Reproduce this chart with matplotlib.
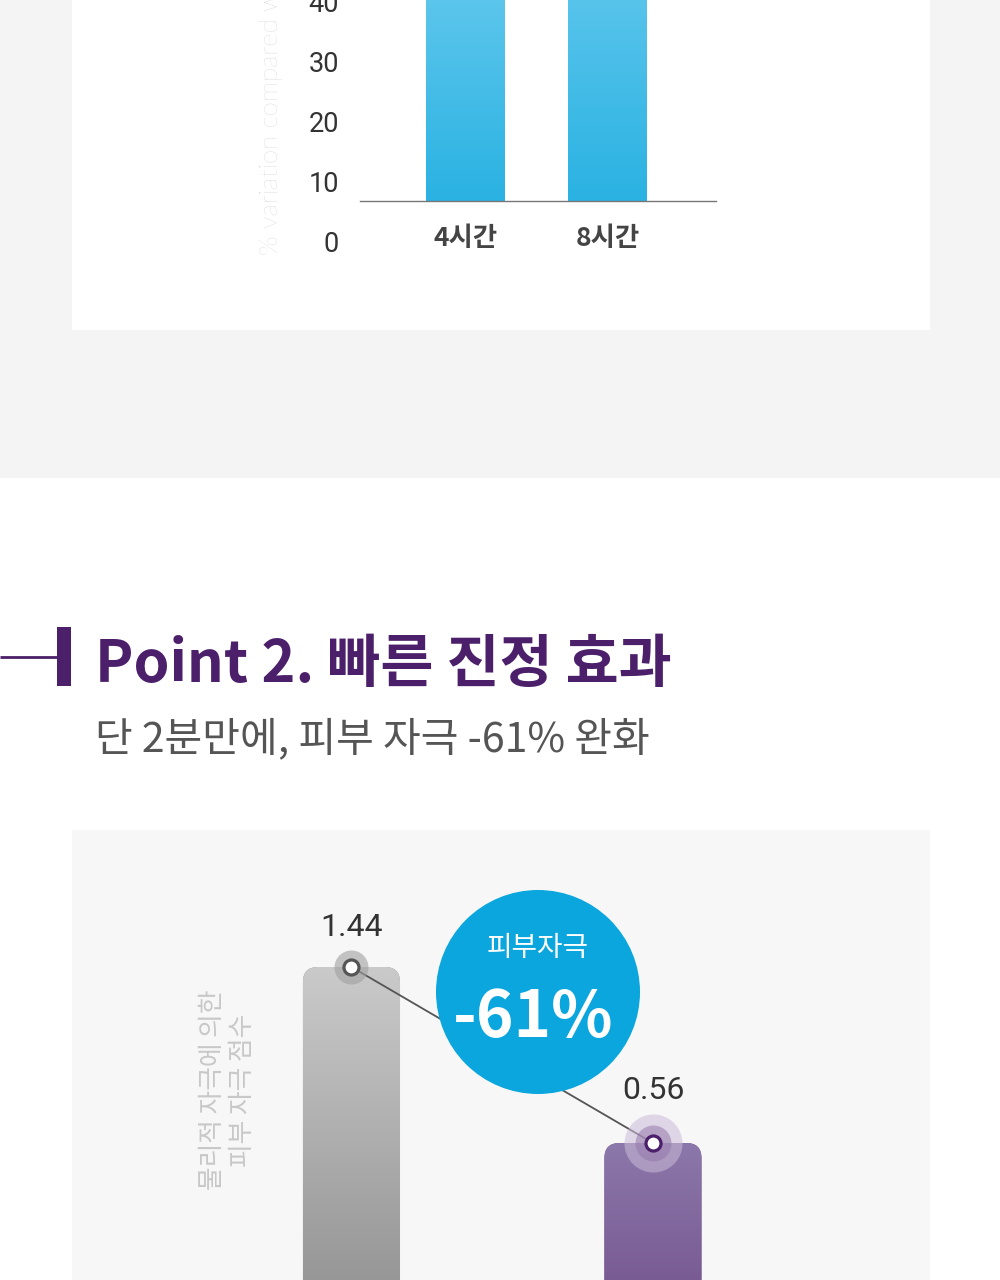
#Recreate infographic: hydration bars (top, cropped) and soothing effect bars (bottom)

import matplotlib
matplotlib.use('Agg')
import matplotlib.pyplot as plt
import matplotlib.patches as mpatches
from matplotlib.transforms import ScaledTranslation, blended_transform_factory
import numpy as np

plt.rcParams['font.family'] = ['Noto Sans CJK KR', 'DejaVu Sans']

# ---- data ----
top_categories = ['4시간', '8시간']
top_values = [46.5, 51.2]            # bars run off the top of the picture
top_ticks = [0, 10, 20, 30, 40]
top_ylabel = '% variation compared with T0'

title = 'Point 2. 빠른 진정 효과'
subtitle = '단 2분만에, 피부 자극 -61% 완화'

low_values = [1.44, 0.56]
low_ylabel = '물리적 자극에 의한\n피부 자극 점수'
badge_title = '피부자극'

change = round((1 - low_values[1] / low_values[0]) * 100)

# ---- figure ----
W, H = 1000, 1280
fig = plt.figure(figsize=(10, 12.8), dpi=100, facecolor='white')

def fy(px):
    return 1 - px / H

# background decoration layer in pixel coordinates
bg = fig.add_axes([0, 0, 1, 1], zorder=0)
bg.set_xlim(0, W)
bg.set_ylim(H, 0)
bg.axis('off')
bg.add_patch(mpatches.Rectangle((0, 0), W, 478, color='#f4f4f4', lw=0))
bg.add_patch(mpatches.Rectangle((72, 0), 858, 330, color='white', lw=0))
bg.add_patch(mpatches.Rectangle((72, 830), 858, 450, color='#f7f7f7', lw=0))

purple = '#4b1f69'
bg.plot([0, 57], [657, 657], color=purple, lw=2, solid_capstyle='butt')
bg.add_patch(mpatches.Rectangle((57, 627), 14, 59, color=purple, lw=0))
bg.text(95, 682, title, color=purple, fontsize=41.5, fontweight='bold',
        ha='left', va='baseline')
bg.text(95, 751, subtitle, color='#555555', fontsize=29.5, fontweight='light',
        ha='left', va='baseline')


def gradient_bar(ax, x, bottom, width, top, c_top, c_bot, radius=None, aspect=1.0, z=2):
    if radius:
        patch = mpatches.FancyBboxPatch((x - width / 2, bottom), width, top - bottom,
                                        boxstyle='round,pad=0,rounding_size=%g' % radius,
                                        mutation_aspect=aspect, fc=c_bot, ec='none', zorder=z)
    else:
        patch = mpatches.Rectangle((x - width / 2, bottom), width, top - bottom,
                                   fc=c_bot, ec='none', zorder=z)
    ax.add_patch(patch)
    c1 = np.array(matplotlib.colors.to_rgb(c_top))
    c2 = np.array(matplotlib.colors.to_rgb(c_bot))
    t = np.linspace(0, 1, 256)[:, None]
    img = (c1 * (1 - t) + c2 * t)[:, None, :]
    im = ax.imshow(img, extent=(x - width / 2, x + width / 2, bottom, top),
                   aspect='auto', zorder=z + 0.1, interpolation='bilinear')
    im.set_clip_path(patch)


# ---- top chart ----
ax1 = fig.add_axes([360 / W, fy(201), 356 / W, 201 / H], zorder=1)
ax1.patch.set_alpha(0)
x1 = np.arange(len(top_values))
for xi, v in zip(x1, top_values):
    gradient_bar(ax1, xi, 0, 0.556, v, '#6fcdf0', '#2ab2e2')
ax1.set_xlim(-0.743, 1.764)
ax1.set_ylim(0, 33.5)
for s in ['top', 'right', 'left']:
    ax1.spines[s].set_visible(False)
ax1.spines['bottom'].set_color('#777777')
ax1.spines['bottom'].set_linewidth(1)
ax1.spines['bottom'].set_zorder(5)
ax1.set_yticks([])
ax1.set_xticks(x1)
ax1.set_xticklabels(top_categories, fontsize=19, fontweight='bold', color='#444444')
ax1.tick_params(axis='x', length=0, pad=17)

# tick labels sit a little below their grid values in the original
tr = blended_transform_factory(fig.transFigure, ax1.transData) + \
    ScaledTranslation(0, -0.44, fig.dpi_scale_trans)
for t in top_ticks:
    ax1.text(339 / W, t, str(t), transform=tr, ha='right', va='center',
             fontsize=19.5, color='#333333', family='Roboto', clip_on=False)

fig.text(271 / W, fy(255), top_ylabel, rotation=90, ha='center', va='bottom',
         fontsize=18.5, color='#c8c8c8', family='Lato', fontweight='light')

# ---- bottom chart ----
ax2 = fig.add_axes([72 / W, 0, 858 / W, 450 / H], zorder=1)
ax2.patch.set_alpha(0)
ax2.axis('off')
floor = -0.125
bar_base = -0.4     # bars continue below the picture edge
x2 = np.arange(len(low_values))
bar_cols = [('#cacaca', '#8e8e8e'), ('#8c78aa', '#71508b')]
for xi, v, (ct, cb) in zip(x2, low_values, bar_cols):
    gradient_bar(ax2, xi, bar_base, 0.322, v, ct, cb, radius=0.05, aspect=1.5)
ax2.set_xlim(-0.927, 1.919)
ax2.set_ylim(floor, 2.125)

ax2.plot(x2, low_values, color='#555555', lw=1.3, zorder=4)
# halos
ax2.scatter([x2[0]], [low_values[0]], s=600, color='#a0a0a0', alpha=0.6, lw=0, zorder=5)
ax2.scatter([x2[1]], [low_values[1]], s=1745, color='#cbbcd8', alpha=0.55, lw=0, zorder=5)
ax2.scatter([x2[1]], [low_values[1]], s=672, color='#9478ab', alpha=0.55, lw=0, zorder=5)
ring_cols = ['#555555', purple]
for xi, v, rc in zip(x2, low_values, ring_cols):
    ax2.scatter([xi], [v], s=117, facecolor='white', edgecolor=rc, lw=2.3, zorder=6)

label_offsets = [25, 38]   # px above bar top
for xi, v, off in zip(x2, low_values, label_offsets):
    ax2.annotate('%.2f' % v, (xi, v), xytext=(0, off * 0.72), textcoords='offset points',
                 ha='center', va='bottom', fontsize=23, color='#333333', family='Roboto')

ax2.text(228 / W, fy(1090), low_ylabel, transform=fig.transFigure, rotation=90,
         ha='center', va='center', fontsize=18.5, color='#c8c8c8', fontweight='light',
         linespacing=1.15, multialignment='center')

# badge on top
top = fig.add_axes([0, 0, 1, 1], zorder=3)
top.set_xlim(0, W)
top.set_ylim(H, 0)
top.axis('off')
top.add_patch(mpatches.Circle((538, 992), 102, color='#0aa6dd', lw=0))
top.text(538, 948, badge_title, color='white', fontsize=20, ha='center', va='center')
top.text(533, 1018, '-%d%%' % change, color='white', fontsize=46, fontweight='bold',
         ha='center', va='center')

fig.savefig('out.png', dpi=100)
